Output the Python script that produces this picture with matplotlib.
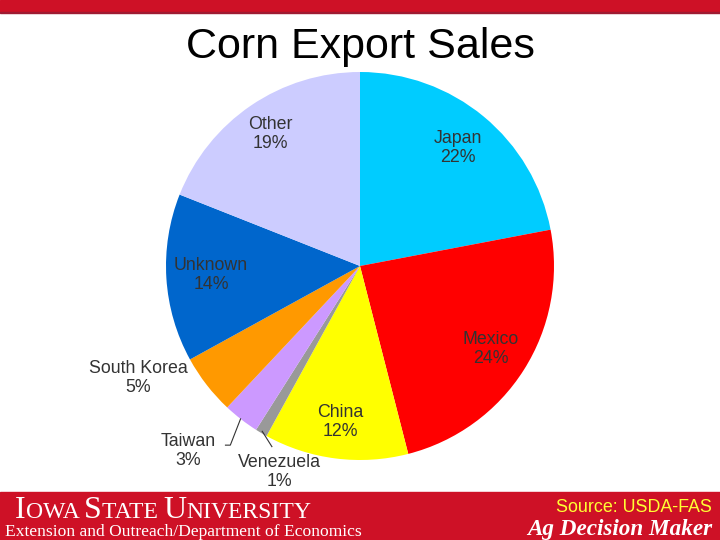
import numpy as np
import matplotlib
matplotlib.use("Agg")
import matplotlib.pyplot as plt
from matplotlib.patches import Rectangle

# ── data ────────────────────────────────────────────────────────────────────
countries = ["Japan", "Mexico", "China", "Venezuela", "Taiwan",
             "South Korea", "Unknown", "Other"]
shares = [22, 24, 12, 1, 3, 5, 14, 19]
colors = ["#00CCFF", "#FF0000", "#FFFF00", "#999999", "#CC99FF",
          "#FF9900", "#0066CC", "#CCCCFF"]

# label placement: radius (in pie radii) and angle override (None = wedge middle)
label_r = [0.79, 0.80, 0.81, 1.14, 1.30, 1.28, 0.77, 0.82]
label_ang = [None, None, None, -111.4, -132.9, -153.2, None, None]

RED = "#CE1126"

fig = plt.figure(figsize=(7.2, 5.4), dpi=100)
plt.rcParams["font.family"] = ["Liberation Sans", "DejaVu Sans"]

# bands
fig.patches.append(Rectangle((0, 1 - 12 / 540), 1, 12 / 540, transform=fig.transFigure,
                             color=RED, zorder=0))
fig.patches.append(Rectangle((0, 1 - 13 / 540), 1, 1.2 / 540, transform=fig.transFigure,
                             color="#9E1B32", zorder=0))
fig.patches.append(Rectangle((0, 0), 1, 48 / 540, transform=fig.transFigure,
                             color=RED, zorder=0))

fig.text(0.5, 1 - 47 / 540, "Corn Export Sales", ha="center", va="center",
         fontsize=31, color="black")

# ── pie ─────────────────────────────────────────────────────────────────────
r_px = 194
ax = fig.add_axes([(360 - r_px) / 720, (540 - 266 - r_px) / 540,
                   2 * r_px / 720, 2 * r_px / 540])
wedges, _ = ax.pie(shares, colors=colors, startangle=90, counterclock=False,
                   wedgeprops=dict(linewidth=0))
ax.set_xlim(-1, 1)
ax.set_ylim(-1, 1)
ax.set_aspect("equal")
ax.axis("off")

for w, name, val, rr, ang in zip(wedges, countries, shares, label_r, label_ang):
    mid = (w.theta1 + w.theta2) / 2
    a = np.deg2rad(mid if ang is None else ang)
    ax.text(rr * np.cos(a), rr * np.sin(a), f"{name}\n{val}%", ha="center",
            va="center", fontsize=12.8, color="#333333", linespacing=1.15,
            clip_on=False)

def polar(r, deg):
    a = np.deg2rad(deg)
    return r * np.cos(a), r * np.sin(a)

# leader lines for Taiwan and Venezuela
p1, p2 = polar(1.0, -128.0), polar(1.14, -125.9)
ax.plot([p1[0], p2[0], p2[0] - 0.025], [p1[1], p2[1], p2[1]], color="#333333",
        lw=0.8, clip_on=False)
p1, p2 = polar(0.99, -120.6), polar(1.036, -116.0)
ax.plot([p1[0], p2[0]], [p1[1], p2[1]], color="#333333", lw=0.8, clip_on=False)

# ── footer ──────────────────────────────────────────────────────────────────
fig.canvas.draw()
renderer = fig.canvas.get_renderer()
x = 15
parts = [("I", 23), ("OWA ", 17), ("S", 23), ("TATE ", 17), ("U", 23), ("NIVERSITY", 17)]
for txt, sz in parts:
    t = fig.text(x / 720, 1 - 518 / 540, txt, fontsize=sz, color="white",
                 family="Liberation Serif", va="baseline", ha="left")
    bb = t.get_window_extent(renderer)
    x += bb.width
fig.text(5 / 720, 1 - 536 / 540, "Extension and Outreach/Department of Economics",
         fontsize=12.6, color="white", family="Liberation Serif", va="baseline",
         ha="left")
fig.text(712 / 720, 1 - 508 / 540, "Source: USDA-FAS", fontsize=12.9, color="#FFFF33",
         ha="right", va="center")
fig.text(712 / 720, 1 - 535 / 540, "Ag Decision Maker", fontsize=16.7, color="white",
         family="Liberation Serif", style="italic", weight="bold", ha="right",
         va="baseline")

fig.savefig("out.png", dpi=100)
